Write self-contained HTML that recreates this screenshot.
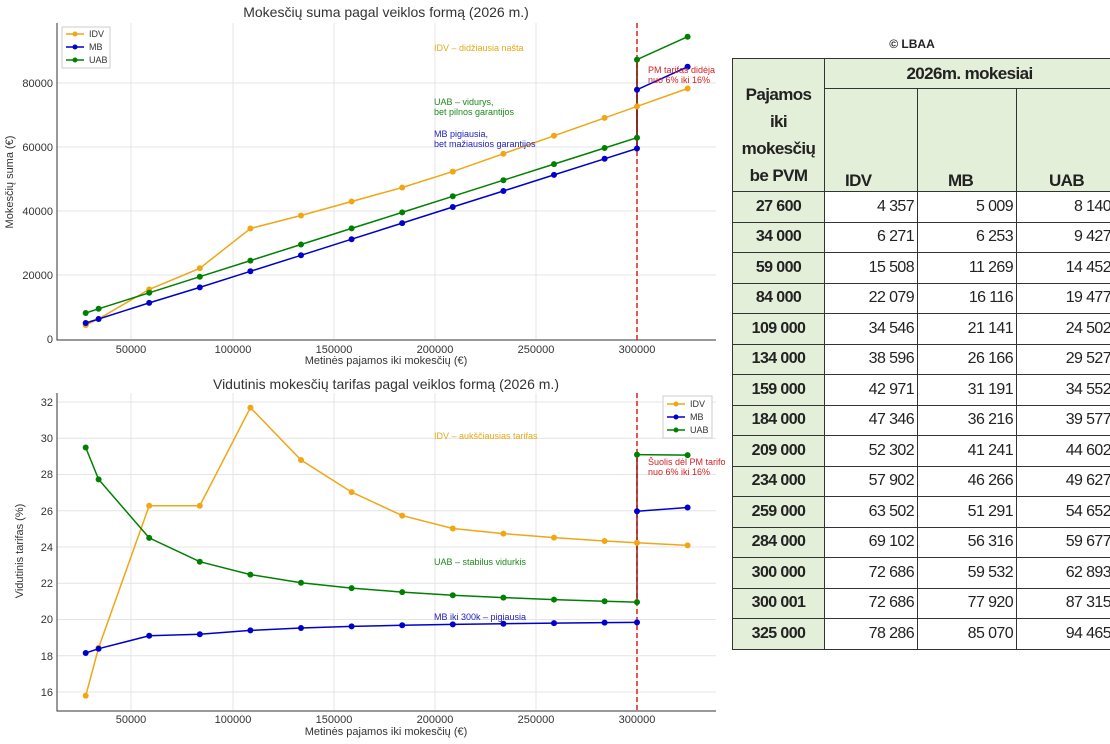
<!DOCTYPE html>
<html><head><meta charset="utf-8"><style>
body{margin:0;width:1110px;height:744px;background:#fff;overflow:hidden;position:relative;font-family:"Liberation Sans",sans-serif}
svg{position:absolute;left:0;top:0}
.t{font-family:"Liberation Sans",sans-serif}
table{position:absolute;left:732px;top:58px;border-collapse:collapse;table-layout:fixed;width:382px;font-family:"Liberation Sans",sans-serif;font-size:16px;color:#222}
td{border:1.5px solid #333;height:29.5px;padding:0 3px 0 0;text-align:right;letter-spacing:-0.6px;overflow:hidden;white-space:nowrap}
td.f{background:#e3efd9;text-align:center;font-weight:bold;padding:0}
</style></head><body>
<svg width="1110" height="744" viewBox="0 0 1110 744">
<g stroke="#e4e4e4" stroke-width="1">
<line x1="131" y1="23" x2="131" y2="339"/><line x1="233" y1="23" x2="233" y2="339"/><line x1="334" y1="23" x2="334" y2="339"/><line x1="435" y1="23" x2="435" y2="339"/><line x1="536" y1="23" x2="536" y2="339"/><line x1="637" y1="23" x2="637" y2="339"/>
<line x1="57" y1="275" x2="716" y2="275"/><line x1="57" y1="211" x2="716" y2="211"/><line x1="57" y1="147" x2="716" y2="147"/><line x1="57" y1="83" x2="716" y2="83"/>
<line x1="131" y1="393" x2="131" y2="710"/><line x1="233" y1="393" x2="233" y2="710"/><line x1="334" y1="393" x2="334" y2="710"/><line x1="435" y1="393" x2="435" y2="710"/><line x1="536" y1="393" x2="536" y2="710"/><line x1="637" y1="393" x2="637" y2="710"/>
<line x1="57" y1="692" x2="716" y2="692"/><line x1="57" y1="655.75" x2="716" y2="655.75"/><line x1="57" y1="619.5" x2="716" y2="619.5"/><line x1="57" y1="583.25" x2="716" y2="583.25"/><line x1="57" y1="547" x2="716" y2="547"/><line x1="57" y1="510.75" x2="716" y2="510.75"/><line x1="57" y1="474.5" x2="716" y2="474.5"/><line x1="57" y1="438.25" x2="716" y2="438.25"/><line x1="57" y1="402" x2="716" y2="402"/>
</g>
<g stroke="#333" stroke-width="1" fill="none">
<polyline points="57,23 57,340 716,340"/>
<polyline points="57,393 57,711 716,711"/>
</g>
<g fill="#333" font-size="11" class="t" text-anchor="end">
<text x="53" y="343">0</text><text x="53" y="279">20000</text><text x="53" y="215">40000</text><text x="53" y="151">60000</text><text x="53" y="87">80000</text>
<text x="53" y="696">16</text><text x="53" y="660">18</text><text x="53" y="623">20</text><text x="53" y="587">22</text><text x="53" y="551">24</text><text x="53" y="515">26</text><text x="53" y="478">28</text><text x="53" y="442">30</text><text x="53" y="406">32</text>
</g>
<g fill="#333" font-size="11" class="t" text-anchor="middle">
<text x="131" y="353">50000</text><text x="233" y="353">100000</text><text x="334" y="353">150000</text><text x="435" y="353">200000</text><text x="536" y="353">250000</text><text x="637" y="353">300000</text>
<text x="131" y="723">50000</text><text x="233" y="723">100000</text><text x="334" y="723">150000</text><text x="435" y="723">200000</text><text x="536" y="723">250000</text><text x="637" y="723">300000</text>
<text x="386" y="364" font-size="11">Metinės pajamos iki mokesčių (€)</text>
<text x="386" y="735" font-size="11">Metinės pajamos iki mokesčių (€)</text>
<text x="386" y="17" font-size="14">Mokesčių suma pagal veiklos formą (2026 m.)</text>
<text x="386" y="389" font-size="14">Vidutinis mokesčių tarifas pagal veiklos formą (2026 m.)</text>
<text transform="translate(13,182) rotate(-90)" font-size="11">Mokesčių suma (€)</text>
<text transform="translate(23,551) rotate(-90)" font-size="11">Vidutinis tarifas (%)</text>
</g>
<line x1="637" y1="23" x2="637" y2="340" stroke="#d62020" stroke-width="1.5" stroke-dasharray="5,3"/>
<line x1="637" y1="393" x2="637" y2="711" stroke="#d62020" stroke-width="1.5" stroke-dasharray="5,3"/>
<g fill="none" stroke-width="1.5">
<polyline stroke="#f0a616" points="85.7,325.1 98.6,318.9 149.2,289.4 199.8,268.3 250.4,228.5 301,215.5 351.6,201.5 402.2,187.5 452.8,171.6 503.4,153.7 554,135.8 604.6,117.9 637,106.4 687.6,88.5"/>
<polyline stroke="#0000cc" points="85.7,323 98.6,319 149.2,302.9 199.8,287.4 250.4,271.3 301,255.3 351.6,239.2 402.2,223.1 452.8,207 503.4,191 554,174.9 604.6,158.8 637,148.5 637,89.7 687.6,66.8"/>
<polyline stroke="#008000" points="85.7,313 98.6,308.8 149.2,292.8 199.8,276.7 250.4,260.6 301,244.5 351.6,228.4 402.2,212.4 452.8,196.3 503.4,180.2 554,164.1 604.6,148 637,137.7 637,59.6 687.6,36.7"/>
<polyline stroke="#f0a616" points="85.7,695.8 98.6,647.8 149.2,505.7 199.8,505.7 250.4,407.6 301,460 351.6,492.1 402.2,515.6 452.8,528.5 503.4,533.6 554,537.6 604.6,541 637,542.8 687.6,545.4"/>
<polyline stroke="#0000cc" points="85.7,653 98.6,648.7 149.2,635.8 199.8,634.2 250.4,630.4 301,628 351.6,626.4 402.2,625.3 452.8,624.4 503.4,623.7 554,623.1 604.6,622.6 637,622.4"/>
<polyline stroke="#0000cc" points="637,511.3 687.6,507.5"/>
<polyline stroke="#008000" points="85.7,447.5 98.6,479.4 149.2,537.9 199.8,561.7 250.4,574.6 301,582.7 351.6,588.1 402.2,592.1 452.8,595.2 503.4,597.6 554,599.6 604.6,601.2 637,602.1"/>
<polyline stroke="#008000" points="637,454.6 687.6,455.1"/>
<line x1="637" y1="60" x2="637" y2="148" stroke="#a01818"/>
<line x1="637" y1="455" x2="637" y2="602" stroke="#a01818"/>
</g>
<g stroke="none">
<g fill="#f0a616"><circle cx="85.7" cy="325.1" r="3"/><circle cx="98.6" cy="318.9" r="3"/><circle cx="149.2" cy="289.4" r="3"/><circle cx="199.8" cy="268.3" r="3"/><circle cx="250.4" cy="228.5" r="3"/><circle cx="301" cy="215.5" r="3"/><circle cx="351.6" cy="201.5" r="3"/><circle cx="402.2" cy="187.5" r="3"/><circle cx="452.8" cy="171.6" r="3"/><circle cx="503.4" cy="153.7" r="3"/><circle cx="554" cy="135.8" r="3"/><circle cx="604.6" cy="117.9" r="3"/><circle cx="637" cy="106.4" r="3"/><circle cx="687.6" cy="88.5" r="3"/>
<circle cx="85.7" cy="695.8" r="3"/><circle cx="98.6" cy="647.8" r="3"/><circle cx="149.2" cy="505.7" r="3"/><circle cx="199.8" cy="505.7" r="3"/><circle cx="250.4" cy="407.6" r="3"/><circle cx="301" cy="460" r="3"/><circle cx="351.6" cy="492.1" r="3"/><circle cx="402.2" cy="515.6" r="3"/><circle cx="452.8" cy="528.5" r="3"/><circle cx="503.4" cy="533.6" r="3"/><circle cx="554" cy="537.6" r="3"/><circle cx="604.6" cy="541" r="3"/><circle cx="637" cy="542.8" r="3"/><circle cx="687.6" cy="545.4" r="3"/></g>
<g fill="#0000cc"><circle cx="85.7" cy="323" r="3"/><circle cx="98.6" cy="319" r="3"/><circle cx="149.2" cy="302.9" r="3"/><circle cx="199.8" cy="287.4" r="3"/><circle cx="250.4" cy="271.3" r="3"/><circle cx="301" cy="255.3" r="3"/><circle cx="351.6" cy="239.2" r="3"/><circle cx="402.2" cy="223.1" r="3"/><circle cx="452.8" cy="207" r="3"/><circle cx="503.4" cy="191" r="3"/><circle cx="554" cy="174.9" r="3"/><circle cx="604.6" cy="158.8" r="3"/><circle cx="637" cy="148.5" r="3"/><circle cx="637" cy="89.7" r="3"/><circle cx="687.6" cy="66.8" r="3"/>
<circle cx="85.7" cy="653" r="3"/><circle cx="98.6" cy="648.7" r="3"/><circle cx="149.2" cy="635.8" r="3"/><circle cx="199.8" cy="634.2" r="3"/><circle cx="250.4" cy="630.4" r="3"/><circle cx="301" cy="628" r="3"/><circle cx="351.6" cy="626.4" r="3"/><circle cx="402.2" cy="625.3" r="3"/><circle cx="452.8" cy="624.4" r="3"/><circle cx="503.4" cy="623.7" r="3"/><circle cx="554" cy="623.1" r="3"/><circle cx="604.6" cy="622.6" r="3"/><circle cx="637" cy="622.4" r="3"/><circle cx="637" cy="511.3" r="3"/><circle cx="687.6" cy="507.5" r="3"/></g>
<g fill="#008000"><circle cx="85.7" cy="313" r="3"/><circle cx="98.6" cy="308.8" r="3"/><circle cx="149.2" cy="292.8" r="3"/><circle cx="199.8" cy="276.7" r="3"/><circle cx="250.4" cy="260.6" r="3"/><circle cx="301" cy="244.5" r="3"/><circle cx="351.6" cy="228.4" r="3"/><circle cx="402.2" cy="212.4" r="3"/><circle cx="452.8" cy="196.3" r="3"/><circle cx="503.4" cy="180.2" r="3"/><circle cx="554" cy="164.1" r="3"/><circle cx="604.6" cy="148" r="3"/><circle cx="637" cy="137.7" r="3"/><circle cx="637" cy="59.6" r="3"/><circle cx="687.6" cy="36.7" r="3"/>
<circle cx="85.7" cy="447.5" r="3"/><circle cx="98.6" cy="479.4" r="3"/><circle cx="149.2" cy="537.9" r="3"/><circle cx="199.8" cy="561.7" r="3"/><circle cx="250.4" cy="574.6" r="3"/><circle cx="301" cy="582.7" r="3"/><circle cx="351.6" cy="588.1" r="3"/><circle cx="402.2" cy="592.1" r="3"/><circle cx="452.8" cy="595.2" r="3"/><circle cx="503.4" cy="597.6" r="3"/><circle cx="554" cy="599.6" r="3"/><circle cx="604.6" cy="601.2" r="3"/><circle cx="637" cy="602.1" r="3"/><circle cx="637" cy="454.6" r="3"/><circle cx="687.6" cy="455.1" r="3"/></g>
</g>
<g class="t" font-size="9">
<text x="434" y="51" fill="#e6a817">IDV – didžiausia našta</text>
<text x="434" y="105" fill="#1a8a1a">UAB – vidurys,</text><text x="434" y="115" fill="#1a8a1a">bet pilnos garantijos</text>
<text x="434" y="137" fill="#2222bb">MB pigiausia,</text><text x="434" y="147" fill="#2222bb">bet mažiausios garantijos</text>
<text x="648" y="73" fill="#d62020">PM tarifas didėja</text><text x="648" y="83" fill="#d62020">nuo 6% iki 16%</text>
<text x="434" y="439" fill="#e6a817">IDV – aukščiausias tarifas</text>
<text x="434" y="565" fill="#1a8a1a">UAB – stabilus vidurkis</text>
<text x="434" y="620" fill="#2222bb">MB iki 300k – pigiausia</text>
<text x="648" y="465" fill="#d62020">Šuolis dėl PM tarifo</text><text x="648" y="475" fill="#d62020">nuo 6% iki 16%</text>
</g>
<g class="t" font-size="9" fill="#333">
<rect x="62" y="27" width="48" height="41" fill="#fff" stroke="#ccc"/>
<line x1="66" y1="34" x2="84" y2="34" stroke="#f0a616" stroke-width="1.5"/><circle cx="75" cy="34" r="2.5" fill="#f0a616"/><text x="89" y="37">IDV</text>
<line x1="66" y1="47" x2="84" y2="47" stroke="#0000cc" stroke-width="1.5"/><circle cx="75" cy="47" r="2.5" fill="#0000cc"/><text x="89" y="50">MB</text>
<line x1="66" y1="60" x2="84" y2="60" stroke="#008000" stroke-width="1.5"/><circle cx="75" cy="60" r="2.5" fill="#008000"/><text x="89" y="63">UAB</text>
<rect x="663" y="396" width="49" height="42" fill="#fff" stroke="#ccc"/>
<line x1="667" y1="404" x2="685" y2="404" stroke="#f0a616" stroke-width="1.5"/><circle cx="676" cy="404" r="2.5" fill="#f0a616"/><text x="690" y="407">IDV</text>
<line x1="667" y1="417" x2="685" y2="417" stroke="#0000cc" stroke-width="1.5"/><circle cx="676" cy="417" r="2.5" fill="#0000cc"/><text x="690" y="420">MB</text>
<line x1="667" y1="430" x2="685" y2="430" stroke="#008000" stroke-width="1.5"/><circle cx="676" cy="430" r="2.5" fill="#008000"/><text x="690" y="433">UAB</text>
</g>
<text x="912" y="48" class="t" font-size="12" font-weight="bold" fill="#222" text-anchor="middle">© LBAA</text>
</svg>
<table>
<colgroup><col style="width:92px"><col style="width:93px"><col style="width:99px"><col style="width:98px"></colgroup>
<tr><td class="f" rowspan="2" style="vertical-align:bottom;line-height:27px;font-size:17px;padding-bottom:2px">Pajamos<br>iki<br>mokesčių<br>be PVM</td><td class="f" colspan="3" style="height:29px;font-size:17px">2026m. mokesiai</td></tr>
<tr><td class="f" style="height:102px;vertical-align:bottom;text-align:left;padding-left:20px;font-size:17px">IDV</td><td class="f" style="vertical-align:bottom;text-align:left;padding-left:30px;font-size:17px">MB</td><td class="f" style="vertical-align:bottom;text-align:left;padding-left:32px;font-size:17px">UAB</td></tr>
<tr><td class="f">27 600</td><td>4 357</td><td>5 009</td><td>8 140</td></tr>
<tr><td class="f">34 000</td><td>6 271</td><td>6 253</td><td>9 427</td></tr>
<tr><td class="f">59 000</td><td>15 508</td><td>11 269</td><td>14 452</td></tr>
<tr><td class="f">84 000</td><td>22 079</td><td>16 116</td><td>19 477</td></tr>
<tr><td class="f">109 000</td><td>34 546</td><td>21 141</td><td>24 502</td></tr>
<tr><td class="f">134 000</td><td>38 596</td><td>26 166</td><td>29 527</td></tr>
<tr><td class="f">159 000</td><td>42 971</td><td>31 191</td><td>34 552</td></tr>
<tr><td class="f">184 000</td><td>47 346</td><td>36 216</td><td>39 577</td></tr>
<tr><td class="f">209 000</td><td>52 302</td><td>41 241</td><td>44 602</td></tr>
<tr><td class="f">234 000</td><td>57 902</td><td>46 266</td><td>49 627</td></tr>
<tr><td class="f">259 000</td><td>63 502</td><td>51 291</td><td>54 652</td></tr>
<tr><td class="f">284 000</td><td>69 102</td><td>56 316</td><td>59 677</td></tr>
<tr><td class="f">300 000</td><td>72 686</td><td>59 532</td><td>62 893</td></tr>
<tr><td class="f">300 001</td><td>72 686</td><td>77 920</td><td>87 315</td></tr>
<tr><td class="f">325 000</td><td>78 286</td><td>85 070</td><td>94 465</td></tr>
</table>
</body></html>
